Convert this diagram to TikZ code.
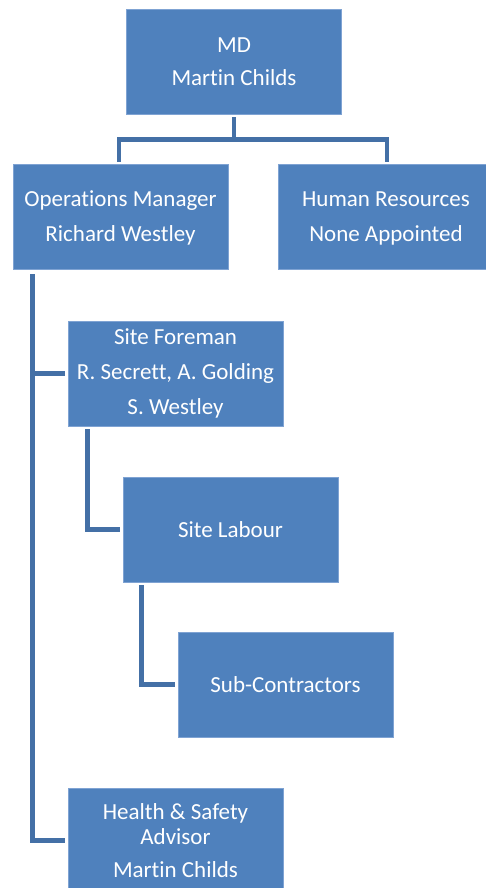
\documentclass[tikz,border=0pt]{standalone}
\usepackage{fontspec}
\setmainfont{Carlito}[Ligatures={NoCommon}]
\definecolor{boxblue}{HTML}{4F81BD}
\definecolor{boxedge}{HTML}{7FA3D3}
\definecolor{linkblue}{HTML}{4470A6}
\begin{document}
\begin{tikzpicture}[x=1pt,y=-1pt,
  orgbox/.style={rectangle, fill=boxblue, draw=boxedge, line width=0.6pt,
    minimum width=215pt, minimum height=105pt, inner sep=0pt,
    text=white, align=center, font=\fontsize{23}{35}\selectfont},
  conn/.style={draw=linkblue, line width=4.6pt, line cap=rect, line join=miter}]
\useasboundingbox (0,0) rectangle (485,888);
\fill[white] (0,0) rectangle (485,888);

\node[orgbox] (md)  at (234,61.5)  {MD\\[-2pt]Martin Childs};
\node[orgbox] (ops) at (120.5,217) {\rule{0pt}{18pt}Operations Manager\\Richard Westley};
\node[orgbox] (hr)  at (386,217)   {\rule{0pt}{18pt}Human Resources\\None Appointed};
\node[orgbox] (sf)  at (175.5,373.5) {Site Foreman\\R. Secrett, A. Golding\\S. Westley};
\node[orgbox] (sl)  at (230.5,529.5) {Site Labour};
\node[orgbox] (sub) at (285.5,684.5) {Sub-Contractors};
\node[orgbox] (hs)  at (175.5,840.5) {Health \& Safety\\[-10pt]Advisor\\[-2pt]Martin Childs};

% MD to the two managers
\coordinate (bus) at (234,139.5);
\draw[conn] ([yshift=-5pt]md.south) -- (bus);
\draw[conn] ([xshift=-1.5pt,yshift=5pt]ops.north) |- (bus) -| ([xshift=1pt,yshift=5pt]hr.north);

% Operations manager trunk
\coordinate (trunk) at ([xshift=20pt,yshift=-6pt]ops.south west);
\draw[conn] (trunk) |- ([xshift=-5pt]hs.west);
\draw[conn] ([xshift=-5pt]sf.west) -- (sf.west -| trunk);

% Site foreman to site labour
\draw[conn] ([xshift=19.5pt,yshift=-5pt]sf.south west) |- ([xshift=-5pt]sl.west);

% Site labour to sub-contractors
\draw[conn] ([xshift=19pt,yshift=-5pt]sl.south west) |- ([xshift=-5pt]sub.west);
\end{tikzpicture}
\end{document}
